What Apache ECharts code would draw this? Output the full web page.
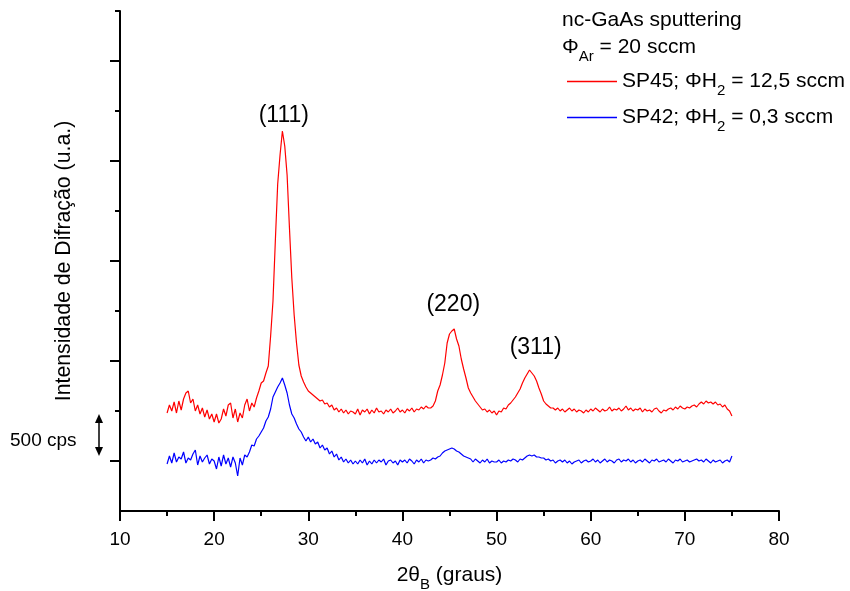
<!DOCTYPE html>
<html><head><meta charset="utf-8">
<script src="https://cdn.jsdelivr.net/npm/echarts@6/dist/echarts.min.js"></script>
<style>html,body{margin:0;padding:0;background:#fff}#c{width:850px;height:591px}</style>
</head><body><div id="c"></div>
<script>
// 2θ (degrees)
const twoTheta = [
15,15.25,15.5,15.75,16,16.25,16.5,16.75,17,17.25,17.5,17.75,18,18.25,18.5,18.75,19,19.25,19.5,19.75,
20,20.25,20.5,20.75,21,21.25,21.5,21.75,22,22.25,22.5,22.75,23,23.25,23.5,23.75,24,24.25,24.5,24.75,
25,25.25,25.5,25.75,26,26.25,26.5,26.75,27,27.25,27.5,27.75,28,28.25,28.5,28.75,29,29.25,29.5,29.75,
30,30.25,30.5,30.75,31,31.25,31.5,31.75,32,32.25,32.5,32.75,33,33.25,33.5,33.75,34,34.25,34.5,34.75,
35,35.25,35.5,35.75,36,36.25,36.5,36.75,37,37.25,37.5,37.75,38,38.25,38.5,38.75,39,39.25,39.5,39.75,
40,40.25,40.5,40.75,41,41.25,41.5,41.75,42,42.25,42.5,42.75,43,43.25,43.5,43.75,44,44.25,44.5,44.75,
45,45.25,45.5,45.75,46,46.25,46.5,46.75,47,47.25,47.5,47.75,48,48.25,48.5,48.75,49,49.25,49.5,49.75,
50,50.25,50.5,50.75,51,51.25,51.5,51.75,52,52.25,52.5,52.75,53,53.25,53.5,53.75,54,54.25,54.5,54.75,
55,55.25,55.5,55.75,56,56.25,56.5,56.75,57,57.25,57.5,57.75,58,58.25,58.5,58.75,59,59.25,59.5,59.75,
60,60.25,60.5,60.75,61,61.25,61.5,61.75,62,62.25,62.5,62.75,63,63.25,63.5,63.75,64,64.25,64.5,64.75,
65,65.25,65.5,65.75,66,66.25,66.5,66.75,67,67.25,67.5,67.75,68,68.25,68.5,68.75,69,69.25,69.5,69.75,
70,70.25,70.5,70.75,71,71.25,71.5,71.75,72,72.25,72.5,72.75,73,73.25,73.5,73.75,74,74.25,74.5,74.75,
75];

// SP45; ΦH2 = 12,5 sccm (offset trace, cps)
const sp45 = [
480,560,500,590,480,600,510,620,680,700,580,620,500,560,470,530,440,510,420,470,
390,470,380,420,520,450,560,580,430,520,390,480,430,560,620,500,580,540,630,700,
780,800,880,950,1250,1600,2200,2770,3060,3300,3150,2860,2330,1830,1460,1180,960,850,790,740,
700,680,660,640,620,600,610,570,580,540,560,510,530,490,520,480,510,470,500,490,
470,520,460,510,490,520,470,510,480,530,490,500,470,510,490,520,480,500,530,490,
510,480,520,500,530,490,520,510,540,520,550,530,530,550,600,700,760,860,980,1180,
1270,1300,1320,1220,1150,1020,920,830,730,680,640,600,570,540,510,520,490,510,480,500,
460,500,490,530,520,560,580,610,640,680,720,780,830,870,910,880,850,800,730,670,
600,570,550,530,530,510,530,500,520,490,510,530,500,520,490,510,500,480,510,490,
520,500,530,510,490,520,500,510,540,500,520,510,530,500,520,550,510,530,500,520,
510,530,490,520,500,510,490,520,530,500,480,510,500,520,530,510,540,520,550,530,
520,540,530,550,560,540,570,590,570,600,580,590,570,590,560,570,540,560,520,500,
450];

// SP42; ΦH2 = 0,3 sccm (cps)
const sp42 = [
-30,50,-20,80,-10,40,20,90,-20,30,10,70,110,-40,50,-10,30,60,-30,20,
0,-80,40,-50,60,-30,30,-60,40,-20,-150,30,-40,60,40,90,160,150,220,250,
290,330,400,440,520,640,690,740,780,830,760,680,560,470,430,370,320,290,240,200,
240,190,220,170,190,130,160,110,130,70,100,40,70,10,40,-10,20,-20,10,-30,
0,-30,10,-20,20,-40,0,-30,10,-20,10,-10,20,-40,0,10,-20,0,-40,10,
-10,10,-20,20,0,-30,10,-10,20,-20,10,0,10,30,20,40,50,80,100,110,
120,130,120,100,90,70,50,40,30,20,-10,20,0,-20,10,-10,20,-20,0,-10,
-10,10,-20,0,-10,10,0,20,10,-10,20,10,30,50,60,50,60,40,40,30,
30,10,20,0,10,-20,0,10,-10,10,-20,0,-30,-10,0,10,-20,0,10,-10,
0,20,-10,10,-20,0,20,-10,10,0,-20,10,20,-10,10,0,20,-10,10,-20,
0,10,-10,20,0,-20,10,0,20,-10,0,10,-10,20,0,-20,10,0,20,-10,
0,10,-10,0,10,20,0,10,-10,20,0,-20,10,-10,0,10,-20,0,10,-10,
50];

const peakNames = ['(111)', '(220)', '(311)'];
const peakX = [27.4, 45.4, 54.15];
const peakY = [3450, 1560, 1135];

const yMajorTicks = [0, 1000, 2000, 3000, 4000];
const yMinorTicks = [500, 1500, 2500, 3500, 4500];

const FONT = 'Liberation Sans, Arial, Helvetica, sans-serif';
const chart = echarts.init(document.getElementById('c'));
const axisLineStyle = { color: '#000', width: 2 };
const subRich = {
  t: { fontFamily: FONT, fontSize: 21, color: '#000', lineHeight: 24 },
  s: { fontFamily: FONT, fontSize: 15, color: '#000', padding: [18, 0, 0, 0] }
};

chart.setOption({
  animation: false,
  backgroundColor: '#fff',
  grid: { left: 120, right: 71, top: 11, bottom: 80, containLabel: false, outerBoundsMode: 'none' },
  legend: {
    data: ['SP45', 'SP42'],
    orient: 'vertical',
    left: 562,
    top: 66,
    icon: 'rect',
    itemWidth: 50,
    itemHeight: 1.3,
    itemGap: 9,
    formatter: function (n) {
      return n === 'SP45'
        ? '{t|SP45; ΦH}{s|2}{t| = 12,5 sccm}'
        : '{t|SP42; ΦH}{s|2}{t| = 0,3 sccm}';
    },
    textStyle: { rich: subRich }
  },
  xAxis: {
    type: 'value', min: 10, max: 80, interval: 10,
    axisLine: { show: true, onZero: false, lineStyle: axisLineStyle },
    axisTick: { show: true, length: 10, lineStyle: axisLineStyle },
    minorTick: { show: true, splitNumber: 2, length: 5, lineStyle: axisLineStyle },
    splitLine: { show: false },
    axisLabel: { color: '#000', fontSize: 19, fontFamily: FONT, margin: 19 },
    name: '{t|2θ}{s|B}{t| (graus)}',
    nameLocation: 'middle',
    nameGap: 48,
    nameTextStyle: { rich: subRich }
  },
  yAxis: [{
    type: 'value', min: -500, max: 4500, position: 'left', offset: 0,
    axisLine: { show: true, onZero: false, lineStyle: axisLineStyle },
    axisTick: { show: true, length: 10, lineStyle: axisLineStyle, customValues: yMajorTicks },
    axisLabel: { show: false },
    splitLine: { show: false },
    name: 'Intensidade de Difração (u.a.)',
    nameLocation: 'middle',
    nameGap: 45,
    nameTextStyle: { color: '#000', fontSize: 21.3, fontFamily: FONT }
  }, {
    type: 'value', min: -500, max: 4500, position: 'left', offset: 0,
    axisLine: { show: false, onZero: false },
    axisTick: { show: true, length: 5, lineStyle: axisLineStyle, customValues: yMinorTicks },
    axisLabel: { show: false },
    splitLine: { show: false }
  }],
  series: [{
    name: 'SP45', type: 'line', yAxisIndex: 0,
    data: twoTheta.map((x, i) => [x, sp45[i]]),
    symbol: 'none', showSymbol: false,
    lineStyle: { color: '#ff0000', width: 1.2 },
    itemStyle: { color: '#ff0000' }
  }, {
    name: 'SP42', type: 'line', yAxisIndex: 0,
    data: twoTheta.map((x, i) => [x, sp42[i]]),
    symbol: 'none', showSymbol: false,
    lineStyle: { color: '#0000ff', width: 1.2 },
    itemStyle: { color: '#0000ff' }
  }, {
    name: 'peaks', type: 'scatter', yAxisIndex: 0,
    data: peakNames.map((n, i) => [peakX[i], peakY[i], n]),
    symbolSize: 0,
    silent: true,
    itemStyle: { opacity: 1 },
    label: {
      show: true, position: 'inside', formatter: p => p.data[2],
      color: '#000', fontSize: 23, fontFamily: FONT, textBorderWidth: 0
    }
  }],
  graphic: [
    { type: 'text', left: 562, top: 10, style: { text: 'nc-GaAs sputtering', font: '21px ' + FONT, fill: '#000' } },
    { type: 'text', left: 562, top: 37, style: { text: '{t|Φ}{s|Ar}{t| = 20 sccm}', rich: subRich } },
    { type: 'text', left: 10, top: 431, style: { text: '500 cps', font: '19px ' + FONT, fill: '#000' } },
    { type: 'line', shape: { x1: 99, y1: 420, x2: 99, y2: 450 }, style: { stroke: '#000', lineWidth: 1.5 } },
    { type: 'polygon', shape: { points: [[95, 423], [99, 414], [103, 423]] }, style: { fill: '#000' } },
    { type: 'polygon', shape: { points: [[95, 447], [99, 456], [103, 447]] }, style: { fill: '#000' } }
  ]
});
</script>
</body></html>
